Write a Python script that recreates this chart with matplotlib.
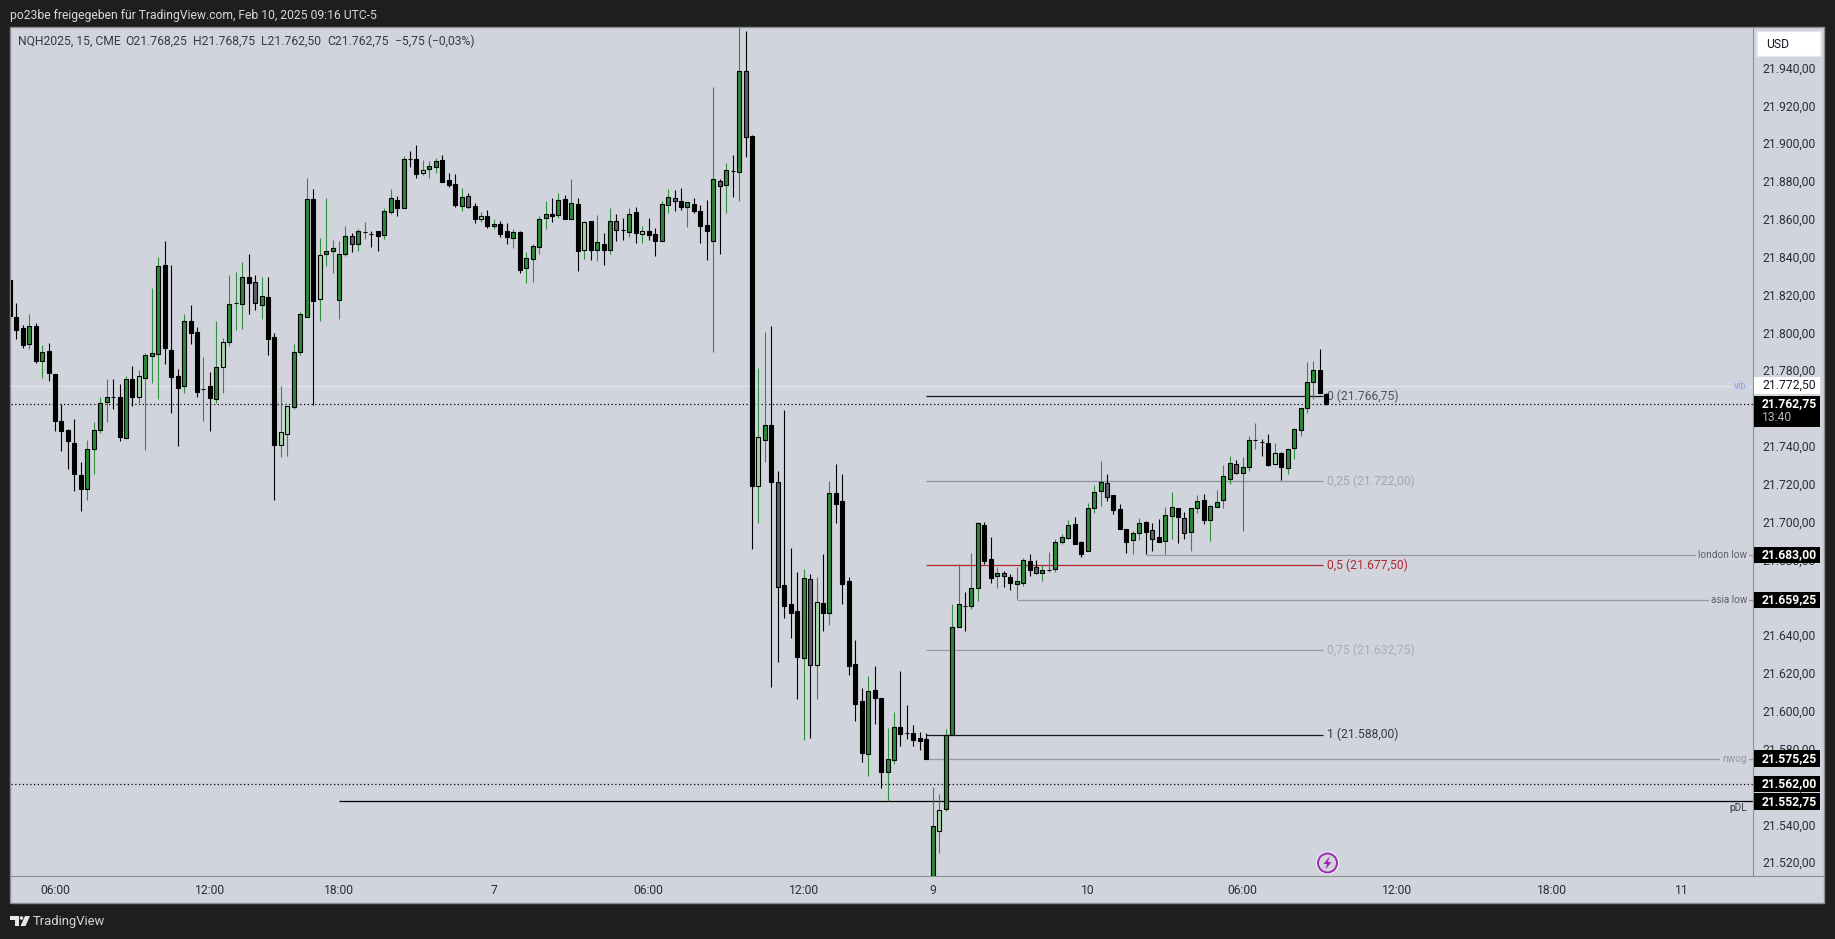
import matplotlib
matplotlib.use('Agg')
import matplotlib.pyplot as plt
from matplotlib.patches import Rectangle, Circle, Polygon, FancyBboxPatch
from matplotlib.transforms import ScaledTranslation

# 15 min candles, NQH2025
opens = [
    21828.3, 21808.7, 21803.0, 21794.6, 21804.2, 21785.6, 21790.6, 21778.5, 21754.0, 21749.0,
    21741.9, 21725.1, 21717.6, 21739.2, 21749.2, 21764.0, 21766.7, 21766.7, 21744.9, 21775.8,
    21766.5, 21776.7, 21788.3, 21789.4, 21836.0, 21791.5, 21777.4, 21772.1, 21806.9, 21800.7,
    21770.8, 21772.1, 21765.6, 21782.4, 21795.7, 21816.0, 21815.8, 21830.1, 21827.1, 21815.3,
    21819.1, 21798.0, 21741.2, 21747.1, 21761.4, 21790.5, 21808.9, 21870.9, 21818.3, 21842.3,
    21843.7, 21817.5, 21842.3, 21851.4, 21847.5, 21853.5, 21852.8, 21854.1, 21851.9, 21864.4,
    21870.5, 21866.1, 21892.3, 21892.1, 21885.0, 21887.1, 21888.2, 21891.6, 21880.9, 21878.9,
    21867.4, 21872.5, 21867.3, 21860.7, 21862.0, 21857.0, 21857.7, 21854.0, 21850.7, 21853.5,
    21834.8, 21839.6, 21845.9, 21861.3, 21863.0, 21862.8, 21871.0, 21860.7, 21868.3, 21844.4,
    21859.3, 21844.4, 21847.2, 21844.4, 21859.3, 21854.6, 21853.9, 21864.1, 21852.8, 21854.0,
    21852.5, 21849.1, 21868.1, 21871.5, 21869.9, 21867.1, 21868.3, 21864.6, 21857.2, 21849.1,
    21880.5, 21878.4, 21885.7, 21885.5, 21938.6, 21904.2, 21719.6, 21743.9, 21751.5, 21721.3,
    21666.9, 21657.0, 21653.1, 21628.7, 21670.1, 21625.0, 21657.4, 21652.4, 21715.5, 21711.5,
    21669.0, 21625.1, 21605.6, 21577.9, 21611.4, 21607.2, 21568.4, 21574.7, 21591.8, 21588.7,
    21588.7, 21586.0, 21585.5, 21510.0, 21537.2, 21548.8, 21588.0, 21645.0, 21655.8, 21656.1,
    21665.3, 21698.8, 21680.7, 21672.0, 21673.3, 21671.2, 21667.8, 21668.3, 21679.6, 21676.4,
    21673.6, 21675.2, 21675.7, 21689.7, 21692.1, 21699.2, 21689.7, 21684.9, 21707.6, 21716.6,
    21720.8, 21714.5, 21707.1, 21696.5, 21690.7, 21694.8, 21700.2, 21696.0, 21692.3, 21690.2,
    21703.4, 21707.6, 21702.3, 21694.9, 21707.6, 21711.9, 21701.6, 21708.2, 21711.9, 21723.0,
    21730.9, 21726.1, 21729.3, 21743.6, 21742.9, 21742.0, 21730.9, 21736.7, 21728.8, 21739.3,
    21748.9, 21760.5, 21774.2, 21780.6, 21768.25]
closes = [
    21809.2, 21802.1, 21794.0, 21804.2, 21785.5, 21790.1, 21779.2, 21753.8, 21748.7, 21743.3,
    21726.0, 21717.9, 21739.2, 21749.2, 21763.5, 21766.7, 21766.7, 21745.4, 21776.2, 21766.5,
    21777.4, 21788.5, 21789.9, 21835.5, 21792.4, 21777.3, 21771.4, 21806.4, 21800.5, 21769.2,
    21770.8, 21766.2, 21782.1, 21795.3, 21815.5, 21816.0, 21830.1, 21826.9, 21816.4, 21819.6,
    21797.3, 21741.2, 21747.8, 21761.5, 21790.1, 21810.1, 21870.9, 21817.3, 21841.4, 21843.9,
    21845.0, 21841.9, 21851.4, 21847.5, 21854.1, 21853.5, 21852.8, 21851.8, 21864.6, 21871.4,
    21866.1, 21892.1, 21892.3, 21884.5, 21886.2, 21888.4, 21891.1, 21880.3, 21878.7, 21867.7,
    21872.0, 21866.9, 21860.7, 21862.0, 21856.9, 21857.7, 21852.8, 21851.2, 21853.5, 21833.8,
    21839.8, 21846.1, 21860.4, 21863.0, 21862.3, 21870.4, 21860.7, 21868.8, 21843.8, 21858.8,
    21844.4, 21848.2, 21844.4, 21859.3, 21854.9, 21854.6, 21863.0, 21853.3, 21854.0, 21852.3,
    21849.1, 21868.3, 21872.0, 21870.2, 21867.1, 21869.4, 21865.0, 21857.0, 21854.4, 21881.5,
    21878.2, 21886.3, 21885.7, 21938.6, 21904.0, 21719.6, 21745.1, 21751.5, 21721.7, 21666.2,
    21656.1, 21652.4, 21629.2, 21670.6, 21625.0, 21657.9, 21652.4, 21715.5, 21710.0, 21667.6,
    21624.2, 21604.3, 21578.4, 21610.9, 21607.5, 21568.4, 21574.9, 21591.8, 21588.5, 21588.7,
    21585.3, 21584.8, 21575.3, 21539.5, 21548.0, 21588.0, 21644.7, 21656.8, 21655.8, 21665.3,
    21699.7, 21680.0, 21671.0, 21673.3, 21672.0, 21668.3, 21669.0, 21680.1, 21675.2, 21673.6,
    21674.9, 21675.2, 21689.7, 21692.3, 21698.6, 21689.0, 21683.7, 21707.6, 21716.1, 21721.4,
    21713.8, 21706.9, 21696.9, 21690.0, 21694.4, 21699.7, 21694.9, 21691.2, 21690.0, 21703.9,
    21708.2, 21702.9, 21694.4, 21707.6, 21711.3, 21701.6, 21708.7, 21710.8, 21724.5, 21731.4,
    21726.1, 21729.3, 21743.6, 21743.6, 21742.9, 21730.7, 21737.1, 21729.3, 21739.2, 21749.4,
    21760.5, 21774.2, 21780.6, 21768.4, 21762.75]
highs = [
    21828.3, 21816.0, 21804.4, 21810.1, 21805.5, 21794.2, 21794.8, 21778.5, 21762.6, 21749.4,
    21755.1, 21731.9, 21744.0, 21753.5, 21766.3, 21775.8, 21776.0, 21773.1, 21777.6, 21783.1,
    21780.6, 21789.6, 21823.9, 21840.5, 21848.7, 21836.0, 21781.2, 21810.1, 21815.0, 21803.3,
    21787.4, 21779.9, 21806.9, 21797.6, 21830.9, 21832.5, 21837.8, 21841.9, 21830.9, 21829.8,
    21830.1, 21800.3, 21772.1, 21761.5, 21794.4, 21811.4, 21882.0, 21876.2, 21850.3, 21871.4,
    21849.3, 21848.7, 21857.1, 21853.0, 21855.5, 21858.9, 21854.3, 21854.1, 21866.4, 21876.2,
    21872.5, 21893.6, 21896.3, 21899.5, 21891.6, 21891.4, 21892.9, 21894.6, 21884.6, 21884.1,
    21876.9, 21874.1, 21868.8, 21864.1, 21865.3, 21860.5, 21859.3, 21858.3, 21855.3, 21854.2,
    21843.1, 21847.3, 21862.1, 21870.1, 21871.5, 21874.1, 21873.1, 21881.5, 21871.5, 21859.5,
    21859.3, 21862.7, 21853.2, 21866.2, 21863.2, 21861.1, 21866.2, 21866.7, 21856.7, 21861.1,
    21855.8, 21870.1, 21876.2, 21875.7, 21876.8, 21869.4, 21871.5, 21867.8, 21870.6, 21930.3,
    21881.5, 21890.2, 21894.3, 21975.0, 21959.9, 21904.9, 21781.6, 21800.6, 21804.0, 21727.2,
    21759.6, 21686.6, 21673.9, 21675.3, 21672.7, 21671.3, 21683.4, 21721.9, 21731.0, 21725.7,
    21671.3, 21637.8, 21612.6, 21618.8, 21624.2, 21607.2, 21591.3, 21599.8, 21621.4, 21603.5,
    21592.9, 21589.2, 21588.7, 21560.1, 21556.4, 21590.8, 21657.0, 21678.0, 21663.2, 21684.0,
    21700.5, 21700.2, 21692.3, 21676.4, 21674.3, 21672.9, 21676.4, 21681.2, 21683.3, 21680.3,
    21677.5, 21684.4, 21691.2, 21693.9, 21701.3, 21702.9, 21690.2, 21710.3, 21719.8, 21732.5,
    21725.6, 21714.5, 21709.9, 21696.5, 21695.5, 21702.3, 21700.8, 21699.7, 21701.8, 21708.2,
    21716.1, 21707.6, 21705.5, 21707.6, 21714.5, 21715.0, 21709.2, 21717.1, 21730.4, 21735.1,
    21733.0, 21734.6, 21745.7, 21752.6, 21744.1, 21746.7, 21742.0, 21737.2, 21739.2, 21749.9,
    21760.5, 21784.8, 21785.3, 21791.7, 21768.75]
lows = [
    21809.2, 21797.1, 21792.3, 21791.7, 21784.4, 21776.5, 21774.9, 21748.5, 21737.9, 21728.3,
    21716.7, 21706.1, 21712.0, 21725.8, 21747.4, 21753.3, 21760.1, 21743.1, 21744.9, 21761.9,
    21763.3, 21738.5, 21773.9, 21765.5, 21783.9, 21757.9, 21740.6, 21768.5, 21794.4, 21766.3,
    21753.8, 21748.5, 21763.3, 21768.5, 21793.5, 21801.9, 21802.4, 21810.3, 21812.4, 21807.6,
    21788.7, 21712.0, 21734.7, 21735.3, 21760.1, 21788.7, 21808.9, 21762.4, 21806.6, 21835.7,
    21831.9, 21807.6, 21841.0, 21843.0, 21843.5, 21850.0, 21845.7, 21843.5, 21850.0, 21863.4,
    21862.1, 21866.1, 21888.0, 21882.1, 21883.7, 21882.1, 21884.8, 21880.3, 21877.5, 21867.1,
    21864.8, 21866.4, 21858.4, 21859.0, 21855.8, 21855.3, 21851.0, 21847.3, 21845.2, 21832.0,
    21826.7, 21827.3, 21841.9, 21855.3, 21859.0, 21861.1, 21860.7, 21860.7, 21833.1, 21839.2,
    21838.9, 21838.4, 21836.2, 21842.1, 21848.9, 21849.3, 21851.0, 21847.9, 21847.9, 21849.5,
    21841.0, 21849.1, 21863.7, 21864.8, 21865.3, 21856.3, 21863.7, 21847.9, 21838.9, 21790.3,
    21842.1, 21863.7, 21872.1, 21870.0, 21893.3, 21686.1, 21699.8, 21732.1, 21613.2, 21626.4,
    21649.6, 21639.0, 21606.8, 21585.1, 21586.2, 21606.8, 21642.7, 21645.9, 21699.8, 21657.0,
    21619.5, 21595.2, 21573.5, 21566.1, 21593.6, 21559.8, 21552.7, 21572.5, 21582.0, 21585.7,
    21582.0, 21579.9, 21575.3, 21505.0, 21525.4, 21547.8, 21588.0, 21645.0, 21642.7, 21654.4,
    21658.4, 21678.4, 21668.3, 21665.7, 21666.2, 21664.6, 21659.5, 21666.8, 21672.0, 21673.1,
    21669.4, 21674.2, 21674.2, 21688.6, 21691.6, 21689.0, 21682.1, 21684.9, 21705.3, 21709.0,
    21711.7, 21704.8, 21696.9, 21684.2, 21683.7, 21691.1, 21683.7, 21685.3, 21690.0, 21683.7,
    21691.6, 21689.5, 21691.6, 21685.3, 21705.0, 21699.5, 21690.5, 21708.2, 21708.0, 21720.7,
    21725.6, 21695.8, 21727.5, 21739.2, 21735.5, 21729.8, 21730.9, 21722.4, 21725.8, 21733.9,
    21746.0, 21758.2, 21765.6, 21768.4, 21762.5]
# g green, k black, l light green, s slate
kinds = ("kkkgkgkkkk" "kkggggkkgk" "lgggkkkgkk" "gkglgggksg" "kkllgggklg"
         "gggsggkkgg" "kgkklggkkk" "gsklkgkkgk" "ggggkgkgkl" "kgkgskgklk"
         "kggskgkkkg" "sgkgsklgks" "kkkgslkgkk" "kkkgkkggkk" "kkkglgggkg"
         "gkkgskggks" "gggggkkggg" "skkkggkskg" "gksggkgggg" "sgggkklkgg" "gggkk")

time_pos = [7, 31, 51, 75, 99, 123, 143, 167, 191, 215, 239, 259]
time_labels = ['06:00', '12:00', '18:00', '7', '06:00', '12:00', '9', '10', '06:00', '12:00', '18:00', '11']
price_ticks = list(range(21520, 21941, 20))

fib_levels = [21766.75, 21722.0, 21677.5, 21632.75, 21588.0]
fib_names = ['0', '0,25', '0,5', '0,75', '1']
fib_colors = ['#131722', '#8f929a', '#b22833', '#9a9da5', '#131722']
fib_text_colors = ['#50535e', '#a3a6ae', '#b22833', '#a9acb4', '#363a45']
fib_start, fib_end = 142.0, 203.5

level_prices = [21683.0, 21659.25, 21575.25, 21552.75]
level_names = ['london low', 'asia low', 'nwog', 'pDL']
level_starts = [176, 156, 142, 51]
level_colors = ['#9598a1', '#9598a1', '#9598a1', '#000000']
level_text = ['#5d606b', '#5d606b', '#9598a1', '#363a45']

last_price = 21762.75
dotted_low = 21562.0
vib = 21772.5

W, H = 1835, 939
BG = '#d1d4dc'
DARK = '#1e1e1e'
EDGE = '#8b8e95'
FILLS = {'g': '#2a8a38', 'k': '#000000', 'l': '#a5d6a7', 's': '#5d606b'}
GREEN_WICK = '#2f8f3c'

plt.rcParams['font.family'] = ['Roboto', 'DejaVu Sans']


def fx(x):
    return x / W


def fy(y):
    return 1 - y / H


def price_text(p):
    s = f'{p:,.2f}'
    return s.replace(',', 'X').replace('.', ',').replace('X', '.')


fig = plt.figure(figsize=(W / 100, H / 100), dpi=100, facecolor=DARK)
fig.add_artist(Rectangle((fx(10), fy(903)), fx(1814), (903 - 27) / H, transform=fig.transFigure,
                         fc=BG, ec=EDGE, lw=1.0, zorder=-2))
# time axis separator
fig.add_artist(plt.Line2D([fx(10), fx(1824)], [fy(876), fy(876)], color=EDGE, lw=0.8, zorder=-1))

ax = fig.add_axes([fx(11), fy(876), (1753 - 11) / W, (876 - 28) / H])
ax.patch.set_alpha(0)
idx = list(range(len(opens)))
ax.set_xlim(0.18, 270.1)
ax.set_ylim(21513.3, 21961.5)
for name, sp in ax.spines.items():
    sp.set_visible(name == 'right')
ax.spines['right'].set_color(EDGE)
ax.spines['right'].set_linewidth(0.8)

ax.yaxis.tick_right()
ax.set_yticks(price_ticks)
ax.set_yticklabels([price_text(p) for p in price_ticks], fontsize=8.7, color='#2a2e39')
ax.set_xticks(time_pos)
ax.set_xticklabels(time_labels, fontsize=8.7, color='#2a2e39')
ax.tick_params(axis='both', length=0)
ax.tick_params(axis='y', pad=6.5)
ax.tick_params(axis='x', pad=5.5)
# price labels sit a pixel above their level
up = ScaledTranslation(0, 1.2 / 100, fig.dpi_scale_trans)
for lab in ax.get_yticklabels():
    lab.set_transform(lab.get_transform() + up)

# levels behind the candles
ax.axhline(vib, color='#e2e4ea', lw=1.0, zorder=1)
ax.axhline(last_price, color='black', lw=0.9, ls=(0, (1, 2)), zorder=3)
ax.axhline(dotted_low, color='black', lw=0.9, ls=(0, (1, 2)), zorder=3)
for p, c, s in zip(fib_levels, fib_colors, [fib_start] * 5):
    ax.hlines(p, s, fib_end, color=c, lw=0.9, zorder=1)
for p, s, c in zip(level_prices, level_starts, level_colors):
    ax.hlines(p, s, 270.1, color=c, lw=0.9, zorder=1)

# candles
wick_colors = [GREEN_WICK if k in 'gl' else 'black' for k in kinds]
ax.vlines(idx, lows, highs, colors=wick_colors, lw=0.8, zorder=4)
bottoms = [min(o, c) for o, c in zip(opens, closes)]
heights = [abs(o - c) for o, c in zip(opens, closes)]
ax.bar(idx, heights, bottom=bottoms, width=0.62, color=[FILLS[k] for k in kinds],
       edgecolor='black', linewidth=0.8, zorder=5)

# fib labels
for p, n, c in zip(fib_levels, fib_names, fib_text_colors):
    ax.text(204.1, p, f'{n} ({price_text(p)})', color=c, fontsize=8.7, va='center', ha='left', zorder=2)

# line labels at the right edge
yt = ax.get_yaxis_transform()
for p, n, c in zip(level_prices[:3], level_names[:3], level_text[:3]):
    ax.text(0.99655, p, n, transform=yt, color=c, fontsize=7.2, ha='right', va='center', zorder=2,
            bbox=dict(fc=BG, ec='none', pad=1.5))
ax.text(0.99655, level_prices[3] - 3.7, level_names[3], transform=yt, color=level_text[3], fontsize=7.2,
        ha='right', va='center')
ax.text(0.99655, vib, 'vib', transform=yt, color='#8da6ee', fontsize=7.2, ha='right', va='center', zorder=2,
        bbox=dict(fc=BG, ec='none', pad=1.5))

# price tags over the axis
x0_tag = 1.0005
w_tag = 66.5 / 1742
x_txt = 1 + 9 / 1742
for p in [21683.0, 21659.25, 21575.25, 21562.0, 21552.75]:
    ax.add_patch(Rectangle((x0_tag, p - 4.4), w_tag, 8.8, transform=yt, fc='black', ec='none',
                           clip_on=False, zorder=6))
    ax.text(x_txt, p, price_text(p), transform=yt, color='white', fontsize=8.7, fontweight='bold',
            ha='left', va='center', zorder=7)
ax.add_patch(Rectangle((x0_tag, vib - 4.4), w_tag, 8.8, transform=yt, fc='white', ec='none',
                       clip_on=False, zorder=6))
ax.text(x_txt, vib, price_text(vib), transform=yt, color='#131722', fontsize=8.7, ha='left', va='center', zorder=7)
ax.add_patch(Rectangle((x0_tag, last_price - 12.3), w_tag, 16.3, transform=yt, fc='black', ec='none',
                       clip_on=False, zorder=6))
ax.text(x_txt, last_price, price_text(last_price), transform=yt, color='white', fontsize=8.7, fontweight='bold',
        ha='left', va='center', zorder=7)
ax.text(x_txt, last_price - 7.2, '13:40', transform=yt, color='#b2b5be', fontsize=8.7,
        ha='left', va='center', zorder=7)

# USD button
fig.add_artist(FancyBboxPatch((fx(1758), fy(56)), 62 / W, 24 / H, transform=fig.transFigure,
                              boxstyle='round,pad=0.0005', fc='white', ec='#e6e8ee', lw=0.8, zorder=8))
fig.text(fx(1766), fy(44), 'USD', color='#131722', fontsize=8.7, va='center', ha='left', zorder=9)

# lightning badge
fig.add_artist(Circle((1327.5, H - 863), 11.5, transform=None, fc='#f2f3f6', ec='none', zorder=8))
fig.add_artist(Circle((1327.5, H - 863), 9.5, transform=None, fc=BG, ec='#9c27b0', lw=1.4, zorder=8))
fig.add_artist(Polygon([(1329.5, H - 856.5), (1323.5, H - 864), (1327, H - 864), (1325.5, H - 869.5),
                        (1331.5, H - 862), (1328, H - 862)], closed=True, transform=None,
                       fc='#9c27b0', ec='none', zorder=9))

# header and legend
fig.text(fx(10), fy(15.5), 'po23be freigegeben für TradingView.com, Feb 10, 2025 09:16 UTC-5',
         color='#d8d8d8', fontsize=8.7, va='center', ha='left')
fig.text(fx(18), fy(41.5), 'NQH2025, 15, CME', color='#363a45', fontsize=8.7, va='center', ha='left')
fig.text(fx(125), fy(41.5), 'O21.768,25', color='#363a45', fontsize=8.7, va='center', ha='left')
fig.text(fx(193), fy(41.5), 'H21.768,75', color='#363a45', fontsize=8.7, va='center', ha='left')
fig.text(fx(261), fy(41.5), 'L21.762,50', color='#363a45', fontsize=8.7, va='center', ha='left')
fig.text(fx(327), fy(41.5), 'C21.762,75', color='#363a45', fontsize=8.7, va='center', ha='left')
fig.text(fx(395), fy(41.5), '−5,75 (−0,03%)', color='#363a45', fontsize=8.7, va='center', ha='left')

# logo and footer
fig.add_artist(Polygon([(10, H - 916), (19, H - 916), (19, H - 926), (15, H - 926), (15, H - 920), (10, H - 920)],
                       closed=True, transform=None, fc='#e8e8e8', ec='none'))
fig.add_artist(Circle((21.5, H - 918), 1.8, transform=None, fc='#e8e8e8', ec='none'))
fig.add_artist(Polygon([(25, H - 916), (30, H - 916), (25.5, H - 926), (20.5, H - 926)],
                       closed=True, transform=None, fc='#e8e8e8', ec='none'))
fig.text(fx(33), fy(921), 'TradingView', color='#d8d8d8', fontsize=9.4, va='center', ha='left')

fig.savefig('out.png', dpi=100, facecolor=DARK)
